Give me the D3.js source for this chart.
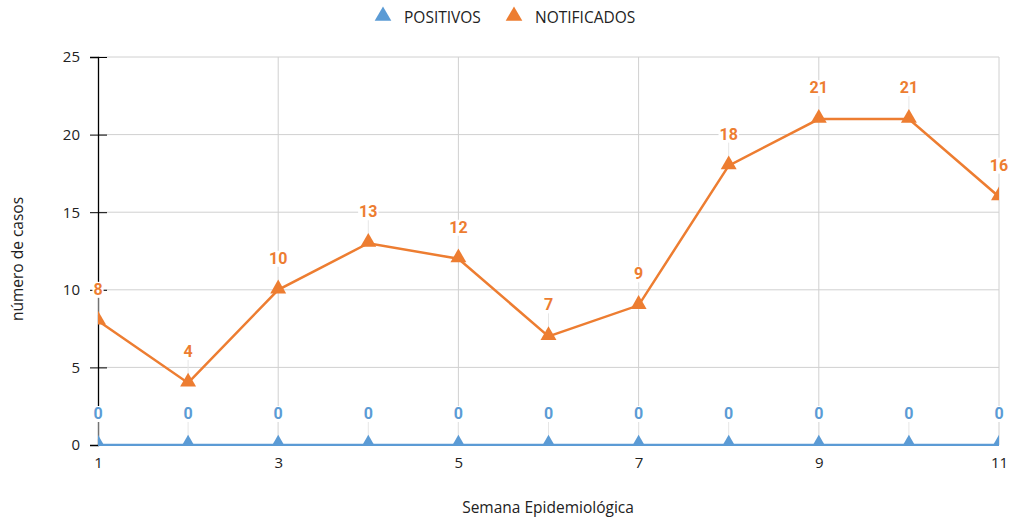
<!DOCTYPE html>
<html><head><meta charset="utf-8">
<script src="https://cdn.jsdelivr.net/npm/d3@7"></script>
<style>body{margin:0;background:#fff;} svg{display:block;}</style>
</head><body><svg id="c" width="1009" height="518"></svg>
<script>
const weeks = [1,2,3,4,5,6,7,8,9,10,11];
const positivos = [0,0,0,0,0,0,0,0,0,0,0];
const notificados = [8,4,10,13,12,7,9,18,21,21,16];
const yTicks = [0,5,10,15,20,25];
const xTicks = [1,3,5,7,9,11];
const seriesNames = ["POSITIVOS","NOTIFICADOS"];
const colors = ["#5B9BD5","#ED7D31"];

const svg = d3.select("#c");
const x = d3.scaleLinear().domain([1,11]).range([98,999]);
const y = d3.scaleLinear().domain([0,25]).range([445,57]);
const font = "'Open Sans', sans-serif";
const fs = 15;

svg.append("clipPath").attr("id","clip").append("rect")
  .attr("x",98).attr("y",40).attr("width",901).attr("height",406);

// gridlines
svg.append("g").selectAll("line").data(yTicks.filter(d=>d>0)).join("line")
  .attr("x1",98).attr("x2",999).attr("y1",d=>y(d)).attr("y2",d=>y(d))
  .attr("stroke","#d0d0d0").attr("stroke-width",1);
svg.append("g").selectAll("line").data(xTicks.filter(d=>d>1)).join("line")
  .attr("x1",d=>x(d)).attr("x2",d=>x(d)).attr("y1",y(25)).attr("y2",y(0))
  .attr("stroke","#d0d0d0").attr("stroke-width",1);

// y axis
const ya = svg.append("g").attr("transform","translate(98,0)")
  .call(d3.axisLeft(y).tickValues(yTicks).tickSize(8).tickPadding(10));
ya.select(".domain").attr("stroke","#000").attr("stroke-width",1.3);
ya.selectAll(".tick line").attr("stroke","#000").attr("x2",-8).attr("x1",9);
ya.selectAll("text").attr("font-family",font).attr("font-size",fs).attr("fill","#222");

// x axis
const xa = svg.append("g").attr("transform","translate(0,445)")
  .call(d3.axisBottom(x).tickValues(xTicks).tickSize(0).tickPadding(12));
xa.select(".domain").remove();
xa.selectAll("text").attr("font-family",font).attr("font-size",fs).attr("fill","#222");

const series = [positivos, notificados];
// leader lines
series.forEach((vals,si)=>{
  svg.append("g").selectAll("line").data(weeks).join("line")
    .attr("x1",d=>x(d)).attr("x2",d=>x(d))
    .attr("y1",(d,i)=>y(vals[i])-24).attr("y2",(d,i)=>y(vals[i])-6)
    .attr("stroke","#e6e6e6").attr("stroke-width",1);
});

const tri = d3.symbol().type(d3.symbolTriangle).size(110);
const plot = svg.append("g").attr("clip-path","url(#clip)");
series.forEach((vals,si)=>{
  const data = weeks.map((w,i)=>({w,v:vals[i]}));
  plot.append("path").datum(data)
    .attr("d",d3.line().x(d=>x(d.w)).y(d=>y(d.v)))
    .attr("fill","none").attr("stroke",colors[si]).attr("stroke-width",2.5);
  plot.append("g").selectAll("path").data(data).join("path")
    .attr("d",tri).attr("transform",d=>`translate(${x(d.w)},${y(d.v)-1})`)
    .attr("fill",colors[si]);
});
// data labels with white background
series.forEach((vals,si)=>{
  const g = svg.append("g");
  weeks.forEach((w,i)=>{
    const lg = g.append("g");
    const bg = lg.append("rect").attr("fill","#fff");
    const t = lg.append("text").attr("x",x(w)).attr("y",y(vals[i])-26)
      .attr("text-anchor","middle")
      .attr("font-family","Roboto, sans-serif").attr("font-weight","bold").attr("font-size",16)
      .attr("fill",colors[si]).text(vals[i]);
    const b = t.node().getBBox();
    bg.attr("x",b.x-1).attr("y",b.y+2).attr("width",b.width+2).attr("height",b.height-3);
  });
});

// axis titles
svg.append("text").attr("x",548).attr("y",513).attr("text-anchor","middle")
  .attr("font-family",font).attr("font-size",15.5).attr("fill","#222").text("Semana Epidemiológica");
svg.append("text").attr("transform","translate(23,259) rotate(-90)").attr("text-anchor","middle")
  .attr("font-family",font).attr("font-size",15.5).attr("fill","#222").text("número de casos");

// legend
const leg = [{x:383,t:seriesNames[0],c:colors[0]},{x:514,t:seriesNames[1],c:colors[1]}];
leg.forEach(l=>{
  svg.append("path").attr("d",d3.symbol().type(d3.symbolTriangle).size(120))
    .attr("transform",`translate(${l.x},16)`).attr("fill",l.c);
  svg.append("text").attr("x",l.x+21).attr("y",23).attr("font-family",font)
    .attr("font-size",15.5).attr("fill","#222").text(l.t);
});
</script></body></html>
